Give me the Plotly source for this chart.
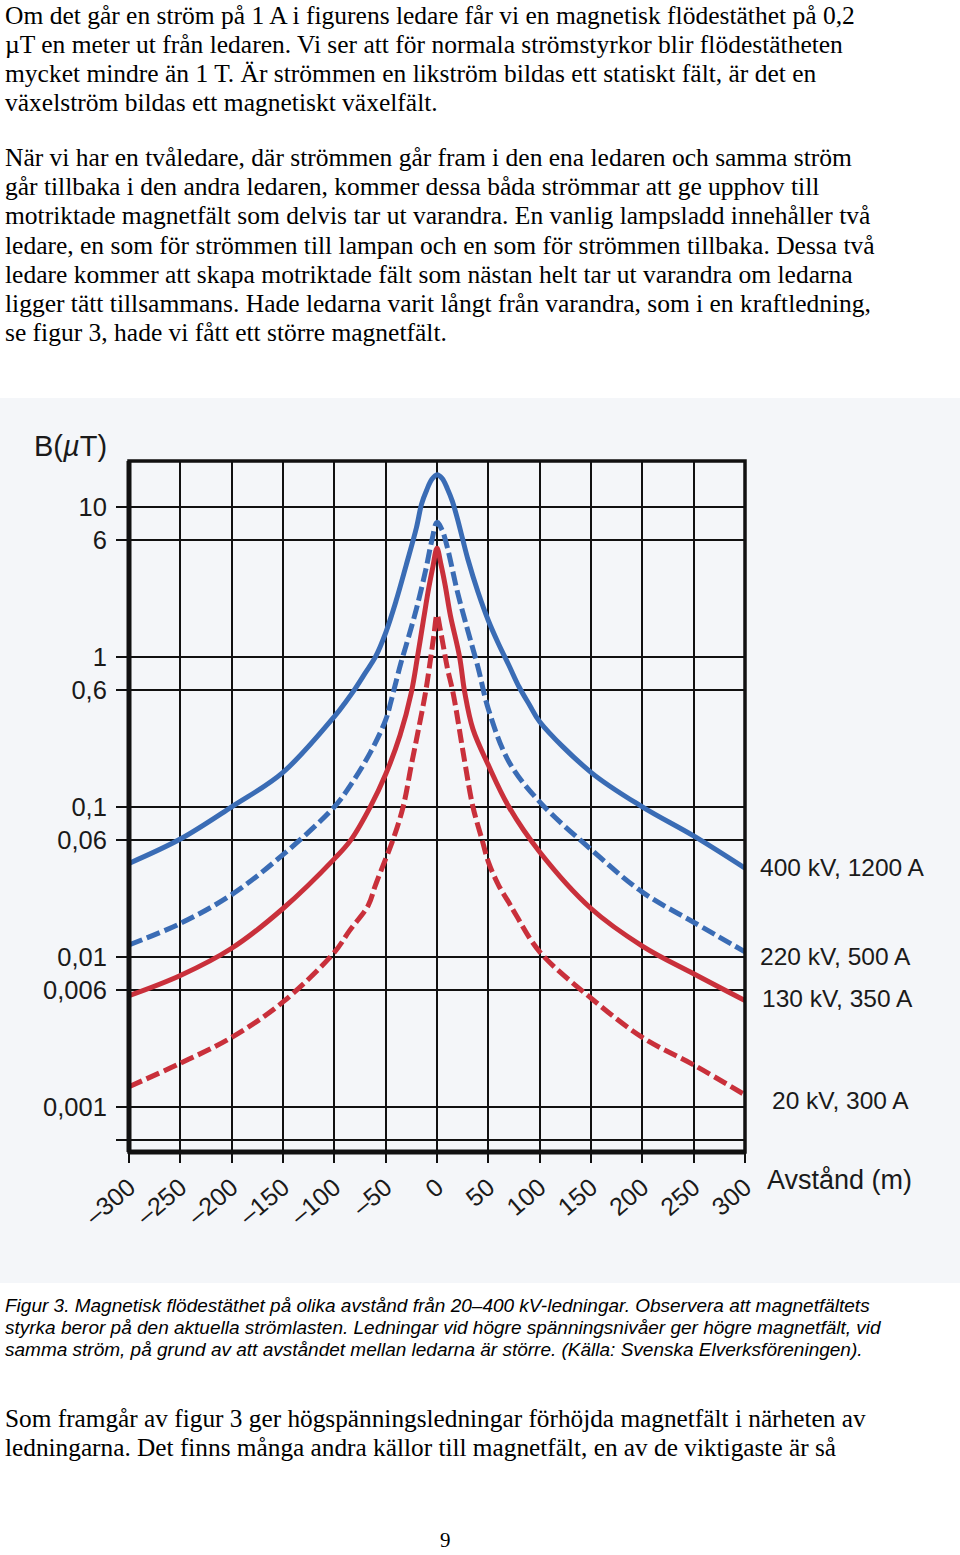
import plotly.graph_objects as go

W, H = 960, 1555

# ---------------- data ----------------
x_400 = [-300, -250, -200, -150, -100, -90, -80, -70, -60, -50, -40, -30, -20, -15, -10, -5, 0,
         5, 10, 15, 20, 25, 30, 40, 50, 60, 70, 80, 90, 100, 150, 200, 250, 300]
b_400 = [0.042, 0.061, 0.1, 0.17, 0.40, 0.49, 0.61, 0.78, 1.0, 1.45, 2.35, 4.1, 7.3, 10.5, 13.0, 15.3, 16.4,
         15.5, 13.3, 10.9, 8.3, 6.1, 4.5, 2.7, 1.75, 1.22, 0.88, 0.63, 0.48, 0.37, 0.17, 0.1, 0.064, 0.039]

x_220 = [-300, -250, -200, -150, -100, -85, -65, -50, -45, -40, -35, -30, -20, -11, -5, 0,
         5, 10, 20, 30, 40, 50, 70, 100, 150, 200, 250, 300]
b_220 = [0.012, 0.0167, 0.026, 0.048, 0.1, 0.137, 0.23, 0.38, 0.5, 0.68, 0.92, 1.2, 2.1, 3.8, 6.0, 7.9,
         7.0, 5.4, 2.7, 1.5, 0.85, 0.45, 0.2, 0.108, 0.052, 0.027, 0.017, 0.0108]

x_130 = [-300, -250, -200, -150, -100, -84, -65, -50, -36, -25, -19, -13, -8, -4, 0,
         4, 8, 13, 22, 27, 35, 50, 70, 100, 150, 200, 250, 300]
b_130 = [0.0055, 0.0075, 0.0114, 0.021, 0.045, 0.06, 0.1, 0.165, 0.3, 0.58, 1.0, 1.8, 2.9, 4.0, 5.3,
         4.1, 3.0, 1.9, 1.0, 0.58, 0.33, 0.19, 0.1, 0.05, 0.021, 0.0118, 0.0077, 0.0051]

x_20 = [-300, -250, -200, -150, -100, -85, -67, -60, -50, -43, -33, -25, -18, -11, -6, -3, 0,
        3, 6, 10, 16, 27, 35, 44, 50, 60, 70, 77, 100, 150, 200, 250, 300]
b_20 = [0.00136, 0.00195, 0.0029, 0.005, 0.0107, 0.015, 0.022, 0.03, 0.045, 0.06, 0.1, 0.19, 0.33, 0.59, 1.0, 1.4, 1.91,
        1.55, 1.2, 0.85, 0.56, 0.2, 0.1, 0.06, 0.043, 0.03, 0.023, 0.019, 0.0108, 0.0053, 0.0029, 0.0019, 0.0012]

series_names = ["400 kV, 1200 A", "220 kV, 500 A", "130 kV, 350 A", "20 kV, 300 A"]

x_ticks = [-300, -250, -200, -150, -100, -50, 0, 50, 100, 150, 200, 250, 300]
x_tick_text = ["–300", "–250", "–200", "–150", "–100", "–50", "0", "50", "100", "150", "200", "250", "300"]
y_ticks = [0.0006, 0.001, 0.006, 0.01, 0.06, 0.1, 0.6, 1, 6, 10]
y_tick_text = ["", "0,001", "0,006", "0,01", "0,06", "0,1", "0,6", "1", "6", "10"]

para1 = [
    "Om det går en ström på 1 A i figurens ledare får vi en magnetisk flödestäthet på 0,2",
    "µT en meter ut från ledaren. Vi ser att för normala strömstyrkor blir flödestätheten",
    "mycket mindre än 1 T. Är strömmen en likström bildas ett statiskt fält, är det en",
    "växelström bildas ett magnetiskt växelfält.",
]
para2 = [
    "När vi har en tvåledare, där strömmen går fram i den ena ledaren och samma ström",
    "går tillbaka i den andra ledaren, kommer dessa båda strömmar att ge upphov till",
    "motriktade magnetfält som delvis tar ut varandra. En vanlig lampsladd innehåller två",
    "ledare, en som för strömmen till lampan och en som för strömmen tillbaka. Dessa två",
    "ledare kommer att skapa motriktade fält som nästan helt tar ut varandra om ledarna",
    "ligger tätt tillsammans. Hade ledarna varit långt från varandra, som i en kraftledning,",
    "se figur 3, hade vi fått ett större magnetfält.",
]
caption = [
    "Figur 3. Magnetisk flödestäthet på olika avstånd från 20–400 kV-ledningar. Observera att magnetfältets",
    "styrka beror på den aktuella strömlasten. Ledningar vid högre spänningsnivåer ger högre magnetfält, vid",
    "samma ström, på grund av att avståndet mellan ledarna är större. (Källa: Svenska Elverksföreningen).",
]
para3 = [
    "Som framgår av figur 3 ger högspänningsledningar förhöjda magnetfält i närheten av",
    "ledningarna. Det finns många andra källor till magnetfält, en av de viktigaste är så",
]

# ---------------- helpers (page pixels -> paper fraction) ----------------
def px(x):
    return x / W

def py(y):
    return 1 - y / H

BLUE = "#3a6cb5"
RED = "#c9303b"
SANS = "Liberation Sans, Arial, sans-serif"
SERIF = "Liberation Serif, Times New Roman, serif"

fig = go.Figure()

styles = [
    (x_400, b_400, BLUE, "solid"),
    (x_220, b_220, BLUE, "14px,5px"),
    (x_130, b_130, RED, "solid"),
    (x_20, b_20, RED, "14px,5px"),
]
for (xs, ys, col, dash), name in zip(styles, series_names):
    fig.add_trace(go.Scatter(
        x=xs, y=ys, mode="lines", name=name,
        line=dict(color=col, width=5, dash=dash, shape="spline", smoothing=1.0),
        showlegend=False, hoverinfo="skip",
    ))

# plot frame in page pixels
L, R, T, B = 129, 745, 461, 1152

fig.update_layout(
    width=W, height=H,
    margin=dict(l=0, r=0, t=0, b=0, autoexpand=False),
    paper_bgcolor="white",
    plot_bgcolor="#fdfefe",
    showlegend=False,
    xaxis=dict(
        domain=[px(L), px(R)], range=[-300, 300], automargin=False,
        tickvals=x_ticks, ticktext=x_tick_text, tickangle=-40,
        showgrid=True, gridcolor="#111", gridwidth=2,
        zeroline=False, showline=False,
        ticks="outside", ticklen=10, tickwidth=2, tickcolor="#111",
        tickfont=dict(family=SANS, size=25, color="#1a1a1a"),
    ),
    yaxis=dict(
        domain=[py(B), py(T)], type="log", range=[-3.302, 1.307], automargin=False,
        tickvals=y_ticks, ticktext=y_tick_text,
        showgrid=True, gridcolor="#111", gridwidth=2,
        zeroline=False, showline=False,
        ticks="outside", ticklen=12, tickwidth=2, tickcolor="#111",
        ticklabelstandoff=4,
        tickfont=dict(family=SANS, size=25.5, color="#1a1a1a"),
    ),
)

shapes = [
    # faint scan background
    dict(type="rect", xref="paper", yref="paper", x0=0, x1=1, y0=py(1283), y1=py(398),
         fillcolor="#f4f6f9", line=dict(width=0), layer="below"),
    # frame
    dict(type="rect", xref="x domain", yref="y domain", x0=0, x1=1, y0=0, y1=1,
         line=dict(color="#111", width=3.5), layer="above"),
    dict(type="line", xref="x domain", yref="y domain", x0=0, x1=0, y0=0, y1=1,
         line=dict(color="#111", width=5), layer="above"),
    dict(type="line", xref="x domain", yref="y domain", x0=0, x1=1, y0=0, y1=0,
         line=dict(color="#111", width=5), layer="above"),
]
fig.update_layout(shapes=shapes)

ann = []

def text(x, y, s, size, family, anchor="left", color="#000", italic=False, yanchor="middle"):
    ann.append(dict(
        x=px(x), y=py(y), xref="paper", yref="paper", text=s, showarrow=False,
        xanchor=anchor, yanchor=yanchor, borderpad=0,
        font=dict(family=family, size=size, color=color, style="italic" if italic else "normal"),
    ))

# body paragraphs: positioned by the top of each line box
for i, s in enumerate(para1):
    text(4, 0 + 29 * i, s, 25.5, SERIF, yanchor="top")
for i, s in enumerate(para2):
    text(4, 142 + 29.2 * i, s, 25.5, SERIF, yanchor="top")
for i, s in enumerate(caption):
    text(4, 1305 + 22 * i, s, 19, SANS, italic=True)
for i, s in enumerate(para3):
    text(4, 1403 + 29 * i, s, 25.3, SERIF, yanchor="top")
text(445, 1540, "9", 21, SERIF, anchor="center")

# chart labels
text(108, 446, "B(<i>µ</i>T)", 29, SANS, anchor="right", color="#1a1a1a")
label_pos = [(759, 868), (759, 956), (761, 999), (771, 1100)]
for (lx, ly), name in zip(label_pos, series_names):
    text(lx, ly, name, 24.5, SANS, color="#1a1a1a")
text(766, 1180, "Avstånd (m)", 27, SANS, color="#1a1a1a")

fig.update_layout(annotations=ann)

# remove the browser's default 8px body margin so the figure sits at the page origin
fig.write_html(
    "out.html",
    config={"displayModeBar": False},
    post_script="document.body.style.margin='0px';",
)
